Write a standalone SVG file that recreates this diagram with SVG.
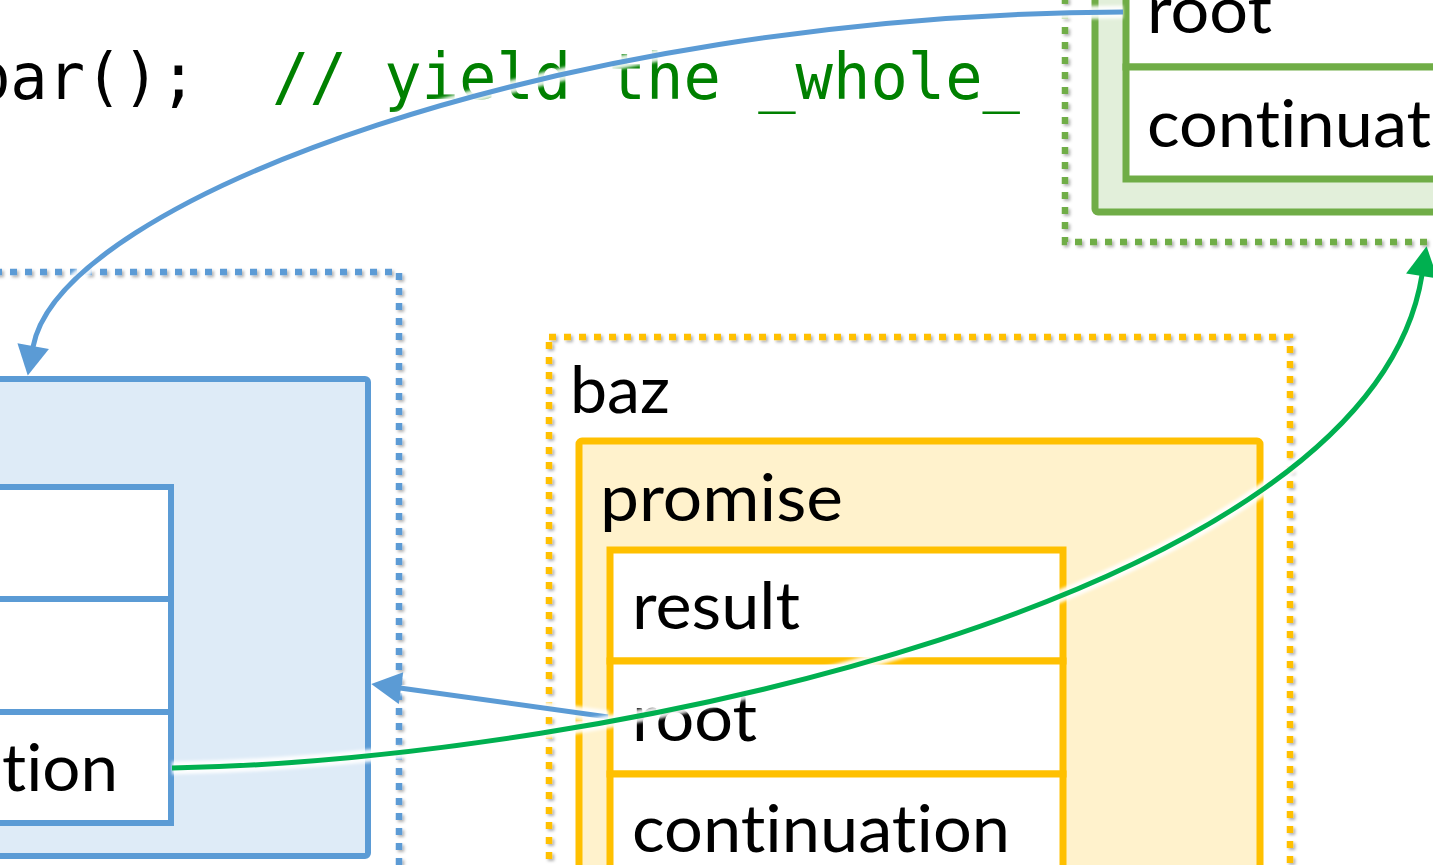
<svg xmlns="http://www.w3.org/2000/svg" width="1433" height="865" viewBox="0 0 1433 865">
<defs>
<style>
.dot{fill:none;stroke-width:6.5;stroke-dasharray:7 8}
.txt{font-family:Lato,"Open Sans","Liberation Sans",sans-serif;font-size:66px;fill:#000;font-variant-ligatures:none;font-feature-settings:"liga" 0,"clig" 0}
.code{font-family:"DejaVu Sans Mono","Liberation Mono",monospace;font-size:64px}
.halo{fill:none;stroke:#fff;stroke-width:13;stroke-opacity:.9}
.blue{stroke:#5B9BD5;stroke-width:6}
.green{stroke:#70AD47;stroke-width:7}
.yellow{stroke:#FFC000;stroke-width:7}
.conn{fill:none;stroke-width:5}
</style>
<filter id="sh" x="-5%" y="-5%" width="115%" height="115%">
<feDropShadow dx="2" dy="2" stdDeviation="1.5" flood-color="#000" flood-opacity="0.3"/>
</filter>
<filter id="soft" x="-10%" y="-10%" width="120%" height="120%">
<feGaussianBlur stdDeviation="1.5"/>
</filter>
<marker id="ab" markerUnits="userSpaceOnUse" markerWidth="32" markerHeight="32" viewBox="0 0 30 32" refX="1" refY="16" orient="auto">
<path d="M0,0 L30,16 L0,32 z" fill="#5B9BD5"/>
</marker>
<marker id="ag" markerUnits="userSpaceOnUse" markerWidth="32" markerHeight="32" viewBox="0 0 30 32" refX="1" refY="16" orient="auto">
<path d="M0,0 L30,16 L0,32 z" fill="#00B050"/>
</marker>
</defs>
<rect width="1433" height="865" fill="#fff"/>

<g id="code">
<text class="code" x="-27" y="99" fill="#000" textLength="224" lengthAdjust="spacingAndGlyphs">bar();</text>
<text class="code" x="272" y="99" fill="#008000" textLength="748" lengthAdjust="spacingAndGlyphs">// yield the _whole_</text>
</g>

<g id="bar-frame">
<rect class="dot" x="-20" y="272" width="419" height="640" stroke="#5B9BD5" filter="url(#sh)"/>
<rect class="blue" x="-20" y="379" width="388" height="477" rx="3" fill="#DEEBF7"/>
<g id="bar-fields">
<rect class="blue" x="-20" y="487" width="191" height="112" fill="#fff"/>
<rect class="blue" x="-20" y="599" width="191" height="113" fill="#fff"/>
<rect class="blue" x="-20" y="712" width="191" height="111" fill="#fff"/>
<text class="txt" x="118" y="791" text-anchor="end" textLength="116" lengthAdjust="spacingAndGlyphs">tion</text>
</g>
</g>

<g id="foo-frame">
<rect class="dot" x="1065" y="-30" width="420" height="272" stroke="#70AD47" filter="url(#sh)"/>
<rect class="green" x="1095" y="-30" width="400" height="242" rx="3" fill="#E2EFDA"/>
<g id="foo-fields">
<rect class="green" x="1126" y="-60" width="400" height="127" fill="#fff"/>
<rect class="green" x="1126" y="67" width="400" height="112" fill="#fff"/>
<text class="txt" x="1147" y="33" textLength="125" lengthAdjust="spacingAndGlyphs">root</text>
<text class="txt" x="1147" y="147" textLength="284" lengthAdjust="spacingAndGlyphs">continuat</text>
</g>
</g>

<g id="baz-frame">
<rect class="dot" x="549" y="337" width="741" height="600" stroke="#FFC000" filter="url(#sh)"/>
<text class="txt" x="570" y="413" textLength="100" lengthAdjust="spacingAndGlyphs">baz</text>
<g id="baz-promise">
<rect class="yellow" x="579" y="441" width="681" height="500" rx="3" fill="#FFF2CC"/>
<text class="txt" x="600" y="521" textLength="243" lengthAdjust="spacingAndGlyphs">promise</text>
<rect class="yellow" x="610" y="550" width="453" height="111" fill="#fff"/>
<rect class="yellow" x="610" y="661" width="453" height="113" fill="#fff"/>
<rect class="yellow" x="610" y="774" width="453" height="150" fill="#fff"/>
<text class="txt" x="632" y="629" textLength="168" lengthAdjust="spacingAndGlyphs">result</text>
<text class="txt" x="632" y="741" textLength="125" lengthAdjust="spacingAndGlyphs">root</text>
<text class="txt" x="632" y="852" textLength="378" lengthAdjust="spacingAndGlyphs">continuation</text>
</g>
</g>

<g id="connectors">
<path class="halo" filter="url(#soft)" d="M1123,12 C560,14 60,200 33,347"/>
<path class="conn" stroke="#5B9BD5" marker-end="url(#ab)" d="M1123,12 C560,14 60,200 33,347"/>
<path class="halo" filter="url(#soft)" d="M608,717 L400,688"/>
<path class="conn" stroke="#5B9BD5" marker-end="url(#ab)" d="M608,717 L400,688"/>
<path class="halo" filter="url(#soft)" d="M172,768 C600,760 1370,600 1422,275"/>
<path class="conn" stroke="#00B050" marker-end="url(#ag)" d="M172,768 C600,760 1370,600 1422,275"/>
</g>
</svg>
